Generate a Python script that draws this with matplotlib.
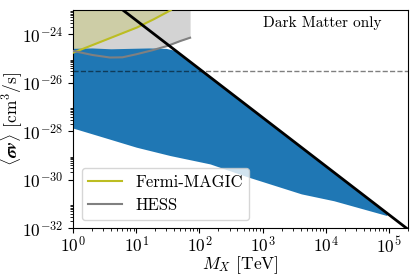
import matplotlib
matplotlib.use("Agg")
import matplotlib.pyplot as plt
import numpy as np
from matplotlib.ticker import LogLocator, NullFormatter

plt.rcParams["font.family"] = ["cmr10", "DejaVu Serif"]
plt.rcParams["mathtext.fontset"] = "cm"
plt.rcParams["axes.formatter.use_mathtext"] = True

# allowed region (scan points), outline
scan_mass_upper = [1, 2, 4, 8, 16, 30, 40, 100, 1e3, 1e4, 9.5e4]
scan_sv_upper = [2.5e-25, 2.6e-25, 2.4e-25, 2.5e-25, 2.6e-25, 2.5e-25, 2.1e-25,
                 3.4e-26, 3.4e-28, 3.4e-30, 3.7e-32]
scan_mass_lower = [1, 3, 10.2, 35, 150, 590, 4200, 13800, 9.5e4]
scan_sv_lower = [1.3e-28, 5.5e-29, 2.1e-29, 9.5e-30, 4.3e-30, 1.26e-30,
                 2.5e-31, 1.3e-31, 3.2e-32]

# unitarity bound
unit_mass = [1, 2e5]
unit_sv = [3.7e-22, 9.25e-33]

# thermal relic cross section
thermal_sv = 3e-26

# Fermi-MAGIC limit
fermi_mass = [1, 3, 10.2, 19, 35, 38]
fermi_sv = [1.75e-25, 5.4e-25, 1.9e-24, 4.2e-24, 9.8e-24, 1.2e-23]

# HESS limit
hess_mass = [1, 2, 3.8, 6, 10, 18, 31, 50, 71]
hess_sv = [2.05e-25, 1.4e-25, 1.1e-25, 1.12e-25, 1.5e-25, 2.2e-25, 3.3e-25,
           5.3e-25, 7.2e-25]

x_lim = (1, 2e5)
y_lim = (1e-32, 1e-23)


def main() -> None:
    fig = plt.figure(figsize=(4.18, 2.78), dpi=100)
    ax = fig.add_axes([0.1754, 0.1788, 0.80, 0.7852])

    ax.fill_between(hess_mass, hess_sv, y_lim[1], color="#d3d3d3", lw=0, zorder=1)
    ax.fill_between(fermi_mass, fermi_sv, y_lim[1], color="#bcbd22", alpha=0.25,
                    lw=0, zorder=1)

    poly_x = list(scan_mass_upper) + list(scan_mass_lower[::-1])
    poly_y = list(scan_sv_upper) + list(scan_sv_lower[::-1])
    ax.fill(poly_x, poly_y, color="#1f77b4", lw=0, zorder=2)

    ax.plot(fermi_mass, fermi_sv, color="#bcbd22", lw=1.5, zorder=3,
            label="Fermi-MAGIC")
    ax.plot(hess_mass, hess_sv, color="gray", lw=1.5, zorder=3, label="HESS")
    ax.plot(unit_mass, unit_sv, color="k", lw=2, zorder=4)
    ax.axhline(thermal_sv, color="k", alpha=0.5, ls="--", lw=1, zorder=4)

    ax.set_xscale("log")
    ax.set_yscale("log")
    ax.set_xlim(*x_lim)
    ax.set_ylim(*y_lim)

    ax.xaxis.set_major_locator(LogLocator(base=10, numticks=20))
    ax.xaxis.set_minor_locator(LogLocator(base=10, subs=np.arange(2, 10), numticks=20))
    ax.xaxis.set_minor_formatter(NullFormatter())
    ax.yaxis.set_major_locator(LogLocator(base=100, numticks=20))
    ax.yaxis.set_minor_locator(LogLocator(base=100, subs=np.arange(2, 10), numticks=20))
    ax.yaxis.set_minor_formatter(NullFormatter())
    ax.tick_params(labelsize=12.5)
    ax.tick_params(axis="x", pad=1.5)

    ax.set_xlabel(r"$\boldsymbol{M_X}$ [TeV]", fontsize=12.5)
    ax.xaxis.set_label_coords(0.5, -0.12)
    ax.set_ylabel(r"$\langle \boldsymbol{\sigma v} \rangle$ [cm$^3$/s]", fontsize=12.5)
    ax.yaxis.set_label_coords(-0.144, 0.5)

    ax.text(0.922, 0.9235, "Dark Matter only", transform=ax.transAxes,
            ha="right", va="baseline", fontsize=11)
    ax.legend(loc="lower left", fontsize=12)

    fig.savefig("out.png", dpi=100)


if __name__ == "__main__":
    main()
